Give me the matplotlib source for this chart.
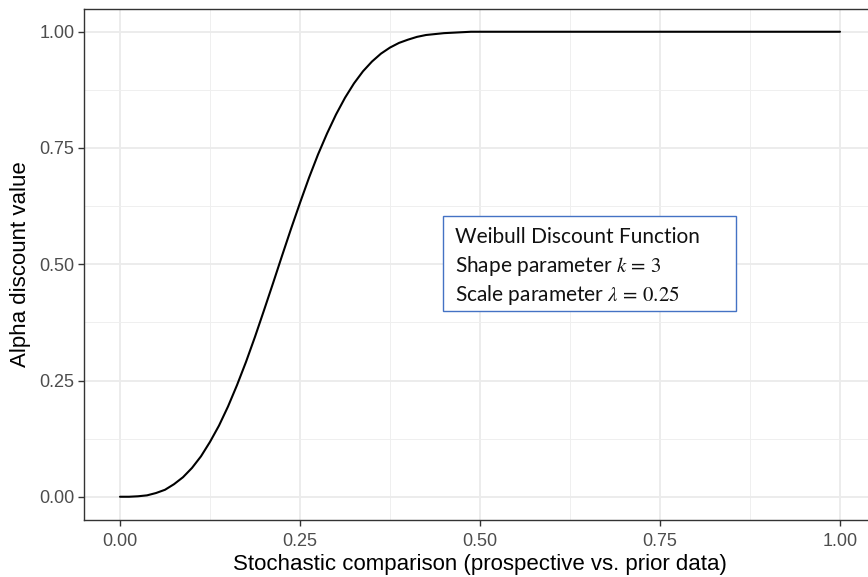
import matplotlib
matplotlib.use("Agg")
import matplotlib.pyplot as plt
from matplotlib.ticker import MultipleLocator

# Values
x_vals = [0.0, 0.0125, 0.025, 0.0375, 0.05, 0.0625, 0.075, 0.0875, 0.10, 0.1125,
          0.125, 0.1375, 0.15, 0.1625, 0.175, 0.1875, 0.20, 0.2125, 0.225, 0.2375,
          0.25, 0.2625, 0.275, 0.2875, 0.30, 0.3125, 0.325, 0.3375, 0.35, 0.3625,
          0.375, 0.3875, 0.40, 0.4125, 0.425, 0.4375, 0.45, 0.4625, 0.475, 0.4875,
          0.50, 0.75, 1.0]
y_vals = [0.0, 0.0, 0.001, 0.003, 0.008, 0.015, 0.027, 0.042, 0.062, 0.087,
          0.118, 0.153, 0.194, 0.240, 0.290, 0.344, 0.401, 0.459, 0.518, 0.576,
          0.632, 0.686, 0.736, 0.781, 0.822, 0.858, 0.889, 0.915, 0.936, 0.953,
          0.966, 0.976, 0.983, 0.989, 0.993, 0.995, 0.997, 0.998, 0.999, 1.0,
          1.0, 1.0, 1.0]
tick_vals = [0.0, 0.25, 0.5, 0.75, 1.0]
tick_labels = ["0.00", "0.25", "0.50", "0.75", "1.00"]
x_title = "Stochastic comparison (prospective vs. prior data)"
y_title = "Alpha discount value"
box_lines = ["Weibull Discount Function",
             r"Shape parameter $k\,=\,3$",
             r"Scale parameter $\lambda\,=\,0.25$"]

plt.rcParams['font.family'] = ['Liberation Sans', 'DejaVu Sans']
plt.rcParams['mathtext.fontset'] = 'stix'

W, H = 868, 577
fig = plt.figure(figsize=(W / 100, H / 100), dpi=100)
ax = fig.add_axes([84 / W, 57 / H, 792 / W, 511.5 / H])

ax.plot(x_vals, y_vals, color="black", lw=1.5, zorder=3,
        solid_joinstyle="round", solid_capstyle="round")
ax.set_xlim(-0.05, 1.05)
ax.set_ylim(-0.05, 1.05)

ax.set_xticks(tick_vals)
ax.set_xticklabels(tick_labels)
ax.set_yticks(tick_vals)
ax.set_yticklabels(tick_labels)
ax.xaxis.set_minor_locator(MultipleLocator(0.125))
ax.yaxis.set_minor_locator(MultipleLocator(0.125))
ax.grid(which="major", color="#EBEBEB", lw=1.3, zorder=0)
ax.grid(which="minor", color="#EFEFEF", lw=0.7, zorder=0)
ax.tick_params(which="minor", length=0)
ax.tick_params(which="major", length=4, width=1.0, color="#333333",
               labelcolor="#4D4D4D", labelsize=13)
ax.tick_params(axis="x", pad=5)
ax.tick_params(axis="y", pad=3)
for s in ax.spines.values():
    s.set_color("#333333")
    s.set_linewidth(1.0)

ax.set_xlabel(x_title, fontsize=16, color="black", labelpad=3)
ax.set_ylabel(y_title, fontsize=16, color="black", labelpad=6)

fig.patches.append(plt.Rectangle((443 / W, 1 - 311 / H), 293 / W, 95 / H,
                                 transform=fig.transFigure, facecolor="white",
                                 edgecolor="#4472C4", lw=1.0, zorder=5))
for i, line in enumerate(box_lines):
    fig.text(455 / W, 1 - (243 + i * 29) / H, line, fontsize=15,
             family=['Lato', 'DejaVu Sans'], color="#111111", va="baseline", zorder=6)

fig.savefig("out.png", dpi=100)
